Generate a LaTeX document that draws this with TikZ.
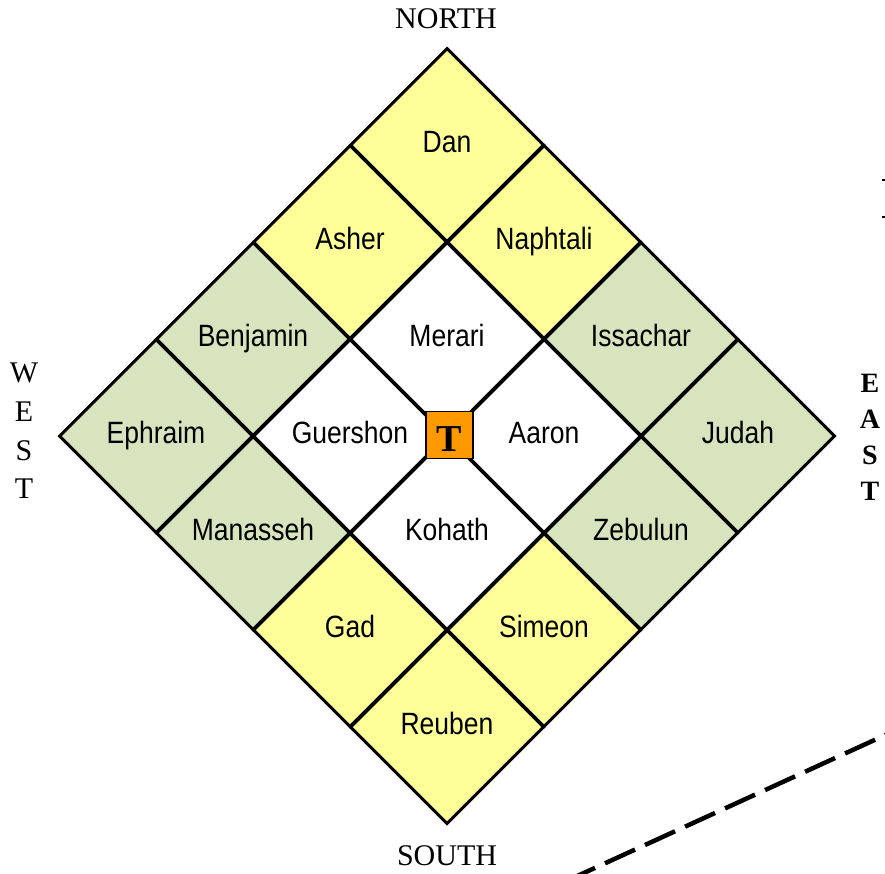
\documentclass[tikz,border=0pt]{standalone}
\usepackage{fontspec}
\setmainfont{Liberation Serif}
\newfontfamily\cellfont[FakeStretch=0.86]{Liberation Sans}
\usetikzlibrary{shapes.geometric}
\definecolor{tribeyellow}{HTML}{FFFF99}
\definecolor{tribegreen}{HTML}{D7E4BD}
\definecolor{tentorange}{HTML}{FF9900}
\tikzset{
  cell/.style={diamond, draw=black, line width=3pt, minimum width=194pt,
    minimum height=194pt, inner sep=0pt, aspect=1,
    text height=22pt, text depth=7pt,
    font=\cellfont\fontsize{30.8}{30.8}\selectfont},
  ycell/.style={cell, fill=tribeyellow},
  gcell/.style={cell, fill=tribegreen},
  wcell/.style={cell, fill=white},
  dirlabel/.style={font=\fontsize{30}{30}\selectfont, inner sep=0pt},
  tentbox/.style={draw=black, line width=1.8pt, fill=tentorange,
    minimum size=47pt, inner sep=0pt, text height=33pt, text depth=0pt,
    font=\bfseries\fontsize{38}{38}\selectfont},
  dashline/.style={line width=4.5pt, dash pattern=on 33pt off 11pt},
}
\begin{document}
\begin{tikzpicture}[x=1pt, y=-1pt]
\useasboundingbox (0,0) rectangle (885,873);
% cells: center (447+(i-j)*97, 145+(i+j)*97)
\node[ycell] (dan)      at (447,145) {Dan};
\node[ycell] (naphtali) at (544,242) {Naphtali};
\node[ycell] (asher)    at (350,242) {Asher};
\node[gcell] (issachar) at (641,339) {Issachar};
\node[gcell] (judah)    at (738,436) {Judah};
\node[gcell] (benjamin) at (253,339) {Benjamin};
\node[gcell] (ephraim)  at (156,436) {Ephraim};
\node[wcell] (merari)   at (447,339) {Merari};
\node[wcell] (aaron)    at (544,436) {Aaron};
\node[wcell] (guershon) at (350,436) {Guershon};
\node[wcell] (kohath)   at (447,533) {Kohath};
\node[gcell] (zebulun)  at (641,533) {Zebulun};
\node[gcell] (manasseh) at (253,533) {Manasseh};
\node[ycell] (simeon)   at (544,630) {Simeon};
\node[ycell] (gad)      at (350,630) {Gad};
\node[ycell] (reuben)   at (447,727) {Reuben};
% tent
\node[tentbox] (tent) at (449.5,435) {T};
% directions
\node[dirlabel] (north) at (446,19) {NORTH};
\node[dirlabel] (south) at (447,856) {SOUTH};
\node[dirlabel, align=center, font=\fontsize{30}{38.7}\selectfont] (west) at (24,431) {W\\E\\S\\T};
\node[dirlabel, align=center, font=\bfseries\fontsize{28}{36}\selectfont] (east) at (870,437) {E\\A\\S\\T};
% dashed line
\coordinate (dashA) at (565,881.6);
\coordinate (dashB) at (935,712.3);
\begin{scope}
  \clip (0,0) rectangle (885,873);
  \draw[dashline] (dashA) -- (dashB);
\end{scope}
% tiny marks at right edge
\fill (882,178.5) rectangle (885,180.5);
\fill (882,216) rectangle (885,218);
\end{tikzpicture}
\end{document}
